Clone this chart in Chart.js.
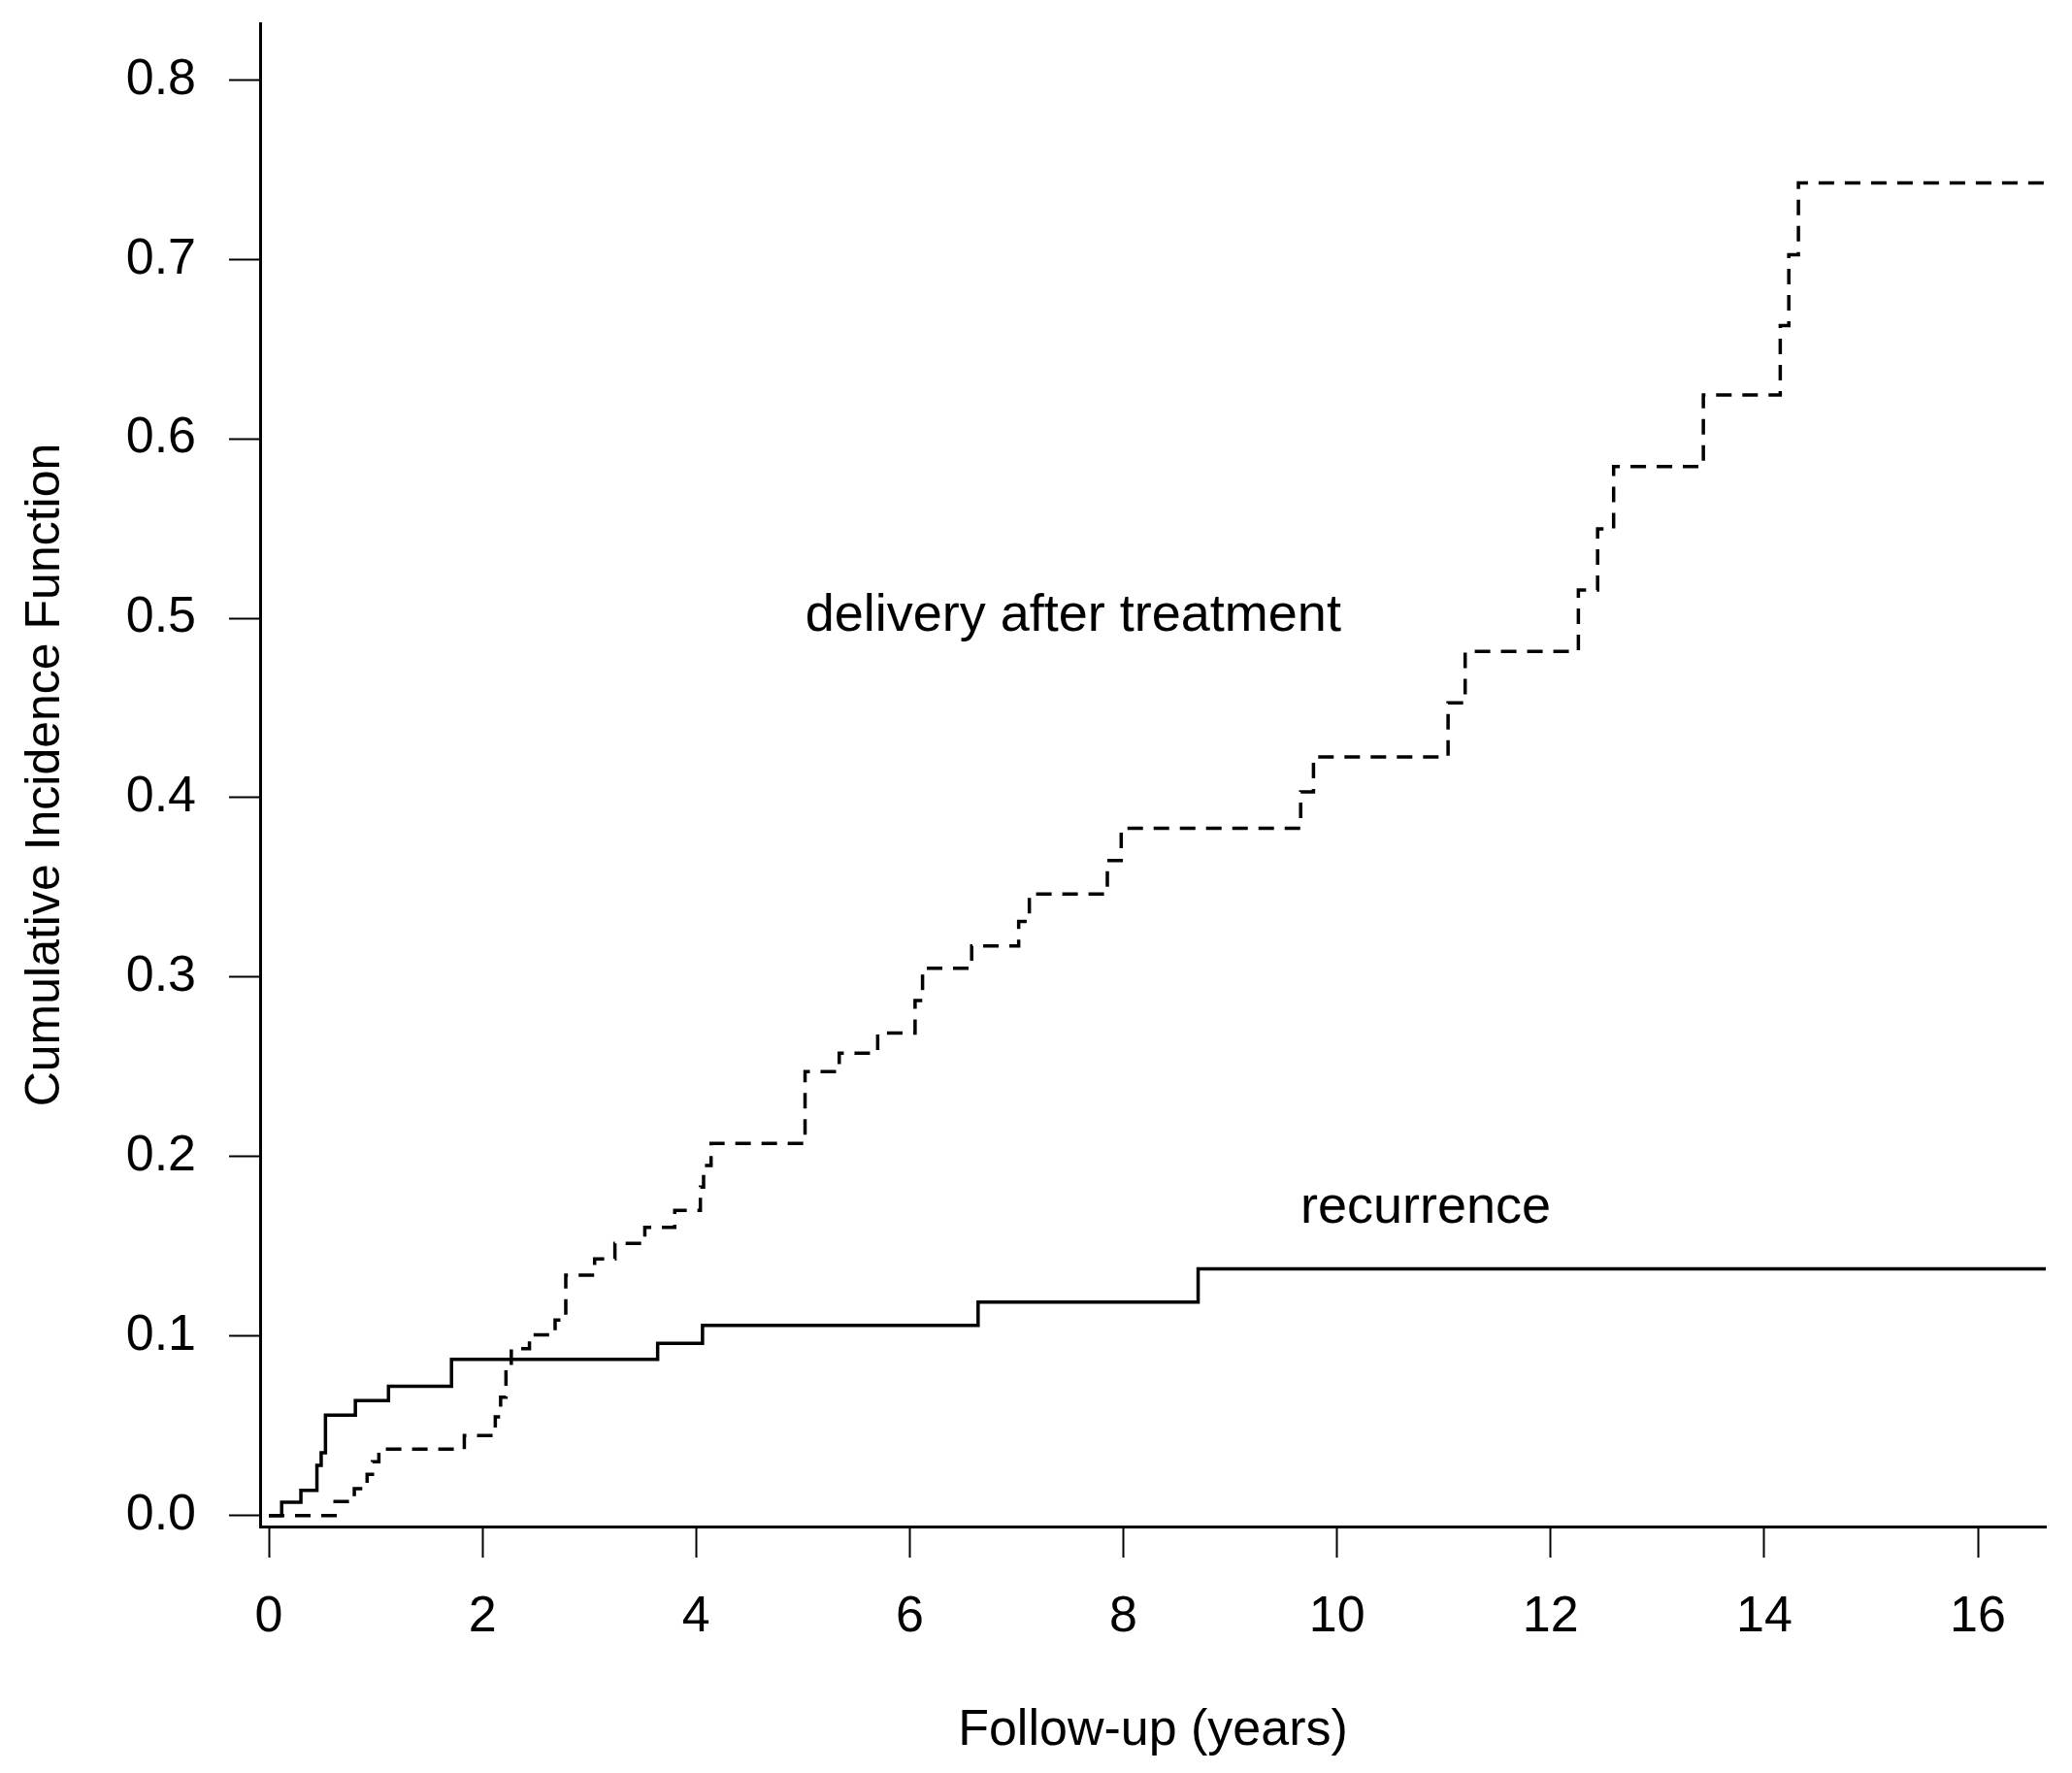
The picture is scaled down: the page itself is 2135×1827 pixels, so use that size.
<!DOCTYPE html>
<html>
<head>
<meta charset="utf-8">
<script src="https://cdn.jsdelivr.net/npm/chart.js@4"></script>
<style>
  body { margin: 0; background: #fff; }
  canvas { display: block; }
</style>
</head>
<body>
<canvas id="cifChart" width="2135" height="1827"></canvas>
<script>
// follow-up years where each curve steps, and the value after the step
var timeRecurrence = [0, 0.12, 0.30, 0.45, 0.49, 0.53, 0.81, 1.12, 1.71, 3.64, 4.06, 6.64, 8.70, 16.64];
var cifRecurrence = [0, 0.0074, 0.014, 0.028, 0.035, 0.056, 0.064, 0.072, 0.087, 0.096, 0.106, 0.119, 0.1375, 0.1375];

var timeDelivery = [0, 0.62, 0.80, 0.92, 0.97, 1.03, 1.83, 2.12, 2.17, 2.22, 2.27, 2.44, 2.68, 2.78,
  3.05, 3.24, 3.52, 3.80, 4.04, 4.07, 4.14, 5.02, 5.34, 5.70, 6.05, 6.12, 6.58, 7.02, 7.12,
  7.85, 7.98, 9.66, 9.78, 11.04, 11.20, 12.26, 12.44, 12.59, 13.43, 14.15, 14.23, 14.32, 16.64];
var cifDelivery = [0, 0.0078, 0.015, 0.023, 0.030, 0.037, 0.0446, 0.055, 0.066, 0.080, 0.093, 0.1007, 0.109, 0.134,
  0.143, 0.1516, 0.1606, 0.170, 0.183, 0.195, 0.2073, 0.2474, 0.2577, 0.2688, 0.287, 0.305, 0.3174, 0.331, 0.3463,
  0.365, 0.383, 0.4033, 0.4227, 0.4528, 0.4815, 0.5157, 0.5498, 0.5845, 0.6244, 0.663, 0.7026, 0.7425, 0.7425];

var xTicks = [0, 2, 4, 6, 8, 10, 12, 14, 16];
var yTicks = [0, 0.1, 0.2, 0.3, 0.4, 0.5, 0.6, 0.7, 0.8];

// curve labels, placed in data units
var noteText = ["delivery after treatment", "recurrence"];
var noteX = [7.53, 10.83];
var noteY = [0.501, 0.171];

function toPoints(xs, ys) {
  return xs.map(function (v, i) { return { x: v, y: ys[i] }; });
}

var FONT = "'Liberation Sans', Arial, Helvetica, sans-serif";
Chart.defaults.font.family = FONT;
Chart.defaults.font.size = 52;
Chart.defaults.color = "#000";

var notes = {
  id: "notes",
  afterDatasetsDraw: function (chart) {
    var ctx = chart.ctx;
    var xs = chart.scales.x, ys = chart.scales.y;
    ctx.save();
    ctx.font = "54px " + FONT;
    ctx.fillStyle = "#000";
    ctx.textAlign = "center";
    ctx.textBaseline = "middle";
    noteText.forEach(function (t, i) {
      ctx.fillText(t, xs.getPixelForValue(noteX[i]), ys.getPixelForValue(noteY[i]));
    });
    ctx.restore();
  }
};

new Chart("cifChart", {
  type: "line",
  data: {
    datasets: [
      {
        label: "recurrence",
        data: toPoints(timeRecurrence, cifRecurrence),
        stepped: true,
        borderColor: "#000",
        borderWidth: 3.5,
        pointRadius: 0,
        fill: false,
      },
      {
        label: "delivery after treatment",
        data: toPoints(timeDelivery, cifDelivery),
        stepped: true,
        borderColor: "#000",
        borderWidth: 3.5,
        borderDash: [16, 11],
        pointRadius: 0,
        fill: false,
      },
    ],
  },
  options: {
    responsive: false,
    devicePixelRatio: 1,
    animation: false,
    layout: { padding: { top: 24, right: 27, left: 0, bottom: 0 } },
    plugins: {
      legend: { display: false },
      tooltip: { enabled: false },
    },
    scales: {
      x: {
        type: "linear",
        min: -0.082,
        max: 16.636,
        afterBuildTicks: function (scale) {
          scale.ticks = xTicks.map(function (v) { return { value: v }; });
        },
        afterFit: function (scale) {
          scale.height = 254;
          scale.paddingLeft = 0;
          scale.paddingRight = 0;
        },
        ticks: {
          autoSkip: false,
          maxRotation: 0,
          padding: 30,
          callback: function (v) { return String(v); },
        },
        grid: {
          drawOnChartArea: false,
          drawTicks: true,
          tickLength: 32,
          tickWidth: 2,
          tickColor: "#000",
        },
        border: { display: true, color: "#000", width: 3 },
        title: {
          display: true,
          text: "Follow-up (years)",
          padding: { top: 0, bottom: 12 },
        },
      },
      y: {
        type: "linear",
        min: -0.0061,
        max: 0.8315,
        afterBuildTicks: function (scale) {
          scale.ticks = yTicks.map(function (v) { return { value: v }; });
        },
        afterFit: function (scale) {
          scale.width = 268;
          scale.paddingTop = 0;
          scale.paddingBottom = 0;
        },
        ticks: {
          autoSkip: false,
          padding: 34,
          callback: function (v) { return v.toFixed(1); },
        },
        grid: {
          drawOnChartArea: false,
          drawTicks: true,
          tickLength: 32,
          tickWidth: 2,
          tickColor: "#000",
        },
        border: { display: true, color: "#000", width: 3 },
        title: {
          display: true,
          text: "Cumulative Incidence Function",
          font: { size: 50 },
          padding: { top: 17, bottom: 0 },
        },
      },
    },
  },
  plugins: [notes],
});
</script>
</body>
</html>
